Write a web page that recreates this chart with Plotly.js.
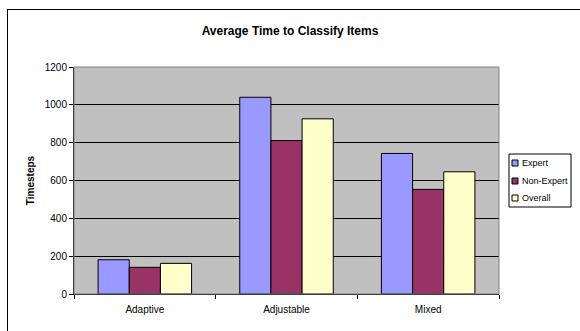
<!DOCTYPE html>
<html>
<head>
<meta charset="utf-8">
<script src="https://cdn.plot.ly/plotly-3.0.1.min.js"></script>
<style>
  html, body { margin: 0; padding: 0; background: #ffffff; }
  #wrap { position: relative; width: 580px; height: 331px; }
  #chart { width: 580px; height: 331px; }
  #frame { position: absolute; left: 7px; top: 9px; right: -2px; bottom: -2px;
           border: 1px solid #000; pointer-events: none; }
</style>
</head>
<body>
<div id="wrap">
  <div id="chart"></div>
  <div id="frame"></div>
</div>
<script>
// Interface conditions and mean classification time per group
const categories = ["Adaptive", "Adjustable", "Mixed"];
const expert = [181, 1040, 743];
const nonExpert = [141, 811, 553];
const overall = [162, 926, 646];
const seriesNames = ["Expert", "Non-Expert", "Overall"];
const yTicks = [0, 200, 400, 600, 800, 1000, 1200];

const colors = ["#9999ff", "#993366", "#ffffcc"];
const font = "Arial, 'Liberation Sans', sans-serif";

const W = 580, H = 331;
const M = { l: 74, r: 81, t: 67, b: 37 };
const plotW = W - M.l - M.r, plotH = H - M.t - M.b;
// pixel position -> paper fraction
const px = v => (v - M.l) / plotW;
const py = v => (H - M.b - v) / plotH;

const traces = [expert, nonExpert, overall].map((vals, i) => ({
  type: "bar",
  name: seriesNames[i],
  x: categories,
  y: vals,
  marker: { color: colors[i], line: { color: "#000000", width: 1 } },
  hoverinfo: "x+y+name"
}));

// Boxed legend at the right of the plot area
const legBox = { x0: 509, x1: 571, y0: 154, y1: 207 };
const legRows = [163, 181, 198];
const shapes = [{
  type: "rect", xref: "paper", yref: "paper",
  x0: 0, x1: 1, y0: 0, y1: 1,
  line: { color: "#808080", width: 1 },
  layer: "above"
}, {
  type: "rect", xref: "paper", yref: "paper",
  x0: px(legBox.x0), x1: px(legBox.x1), y0: py(legBox.y1), y1: py(legBox.y0),
  fillcolor: "#ffffff",
  line: { color: "#000000", width: 1 }
}];
const annotations = [];
seriesNames.forEach((name, i) => {
  const cy = legRows[i];
  shapes.push({
    type: "rect", xref: "paper", yref: "paper",
    x0: px(512), x1: px(518), y0: py(cy + 3), y1: py(cy - 3),
    fillcolor: colors[i],
    line: { color: "#000000", width: 1 }
  });
  annotations.push({
    xref: "paper", yref: "paper",
    x: px(520), y: py(cy),
    xanchor: "left", yanchor: "middle",
    text: name, showarrow: false,
    font: { family: font, size: 9, color: "#000000" }
  });
});

const layout = {
  width: W,
  height: H,
  margin: M,
  paper_bgcolor: "#ffffff",
  plot_bgcolor: "#c0c0c0",
  font: { family: font, size: 10, color: "#000000" },
  title: {
    text: "<b>Average Time to Classify Items</b>",
    font: { family: font, size: 12, color: "#000000" },
    x: 0.5, xanchor: "center",
    y: 0.908, yanchor: "middle"
  },
  barmode: "group",
  bargap: 0.34,
  bargroupgap: 0,
  showlegend: false,
  xaxis: {
    type: "category",
    tickson: "boundaries",
    ticks: "outside",
    ticklen: 4,
    tickcolor: "#000000",
    showline: true,
    linecolor: "#000000",
    linewidth: 1,
    showgrid: false,
    ticklabelstandoff: 6,
    tickfont: { family: font, size: 10, color: "#000000" },
    fixedrange: true
  },
  yaxis: {
    range: [0, 1200],
    tickvals: yTicks,
    ticktext: yTicks.map(String),
    ticks: "outside",
    ticklen: 4,
    tickcolor: "#000000",
    showline: true,
    linecolor: "#000000",
    linewidth: 1,
    showgrid: true,
    gridcolor: "#000000",
    gridwidth: 1,
    zeroline: false,
    tickfont: { family: font, size: 10, color: "#000000" },
    title: {
      text: "<b>Timesteps</b>",
      font: { family: font, size: 10, color: "#000000" },
      standoff: 8
    },
    fixedrange: true
  },
  shapes: shapes,
  annotations: annotations
};

Plotly.newPlot("chart", traces, layout, { displayModeBar: false, staticPlot: true });
</script>
</body>
</html>
